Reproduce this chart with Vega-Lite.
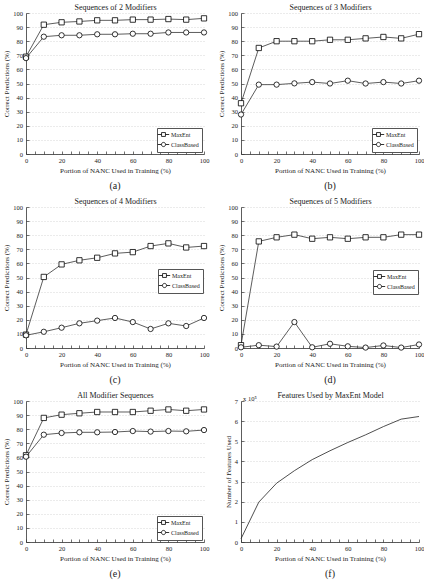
{
  "$schema": "https://vega.github.io/schema/vega-lite/v6.json",
  "padding": {"left": 2, "top": 3, "right": 0, "bottom": 2},
  "background": "white",
  "columns": 2,
  "spacing": {"row": 6, "column": 8},
  "config": {
    "font": "Liberation Serif",
    "view": {"stroke": null},
    "axis": {
      "labelFont": "Liberation Serif",
      "titleFont": "Liberation Serif",
      "labelFontSize": 6.5,
      "titleFontSize": 7,
      "titleFontWeight": "normal",
      "labelColor": "#222",
      "titleColor": "#222",
      "domainColor": "#333",
      "tickColor": "#333",
      "domainWidth": 0.8,
      "tickWidth": 0.7,
      "gridColor": "#bdbdbd",
      "gridDash": [1, 2],
      "gridWidth": 0.6,
      "labelFlush": false,
      "labelOverlap": false,
      "titlePadding": 3
    },
    "axisX": {"labelPadding": 6},
    "axisY": {"labelPadding": 6.5},
    "legend": {
      "labelFont": "Liberation Serif",
      "labelFontSize": 6,
      "labelColor": "#222",
      "strokeColor": "#555",
      "fillColor": "white",
      "padding": 3,
      "symbolSize": 36,
      "symbolStrokeWidth": 0.8,
      "rowPadding": 1,
      "labelOffset": 4
    },
    "title": {"font": "Liberation Serif", "fontWeight": "normal", "fontSize": 10, "color": "#222"}
  },
  "datasets": {
    "acc": [
      {"panel": "a", "portion": 0, "model": "MaxEnt", "value": 69},
      {"panel": "a", "portion": 10, "model": "MaxEnt", "value": 91.7},
      {"panel": "a", "portion": 20, "model": "MaxEnt", "value": 93.4},
      {"panel": "a", "portion": 30, "model": "MaxEnt", "value": 94},
      {"panel": "a", "portion": 40, "model": "MaxEnt", "value": 94.8},
      {"panel": "a", "portion": 50, "model": "MaxEnt", "value": 94.8},
      {"panel": "a", "portion": 60, "model": "MaxEnt", "value": 95.3},
      {"panel": "a", "portion": 70, "model": "MaxEnt", "value": 95.3},
      {"panel": "a", "portion": 80, "model": "MaxEnt", "value": 95.7},
      {"panel": "a", "portion": 90, "model": "MaxEnt", "value": 95.3},
      {"panel": "a", "portion": 100, "model": "MaxEnt", "value": 96.2},
      {"panel": "a", "portion": 0, "model": "ClassBased", "value": 68},
      {"panel": "a", "portion": 10, "model": "ClassBased", "value": 83.2},
      {"panel": "a", "portion": 20, "model": "ClassBased", "value": 84.2},
      {"panel": "a", "portion": 30, "model": "ClassBased", "value": 84.2},
      {"panel": "a", "portion": 40, "model": "ClassBased", "value": 84.9},
      {"panel": "a", "portion": 50, "model": "ClassBased", "value": 84.9},
      {"panel": "a", "portion": 60, "model": "ClassBased", "value": 85.3},
      {"panel": "a", "portion": 70, "model": "ClassBased", "value": 85.3},
      {"panel": "a", "portion": 80, "model": "ClassBased", "value": 86.2},
      {"panel": "a", "portion": 90, "model": "ClassBased", "value": 86.2},
      {"panel": "a", "portion": 100, "model": "ClassBased", "value": 86.2},

      {"panel": "b", "portion": 0, "model": "MaxEnt", "value": 36},
      {"panel": "b", "portion": 10, "model": "MaxEnt", "value": 75.2},
      {"panel": "b", "portion": 20, "model": "MaxEnt", "value": 80},
      {"panel": "b", "portion": 30, "model": "MaxEnt", "value": 80},
      {"panel": "b", "portion": 40, "model": "MaxEnt", "value": 80},
      {"panel": "b", "portion": 50, "model": "MaxEnt", "value": 81},
      {"panel": "b", "portion": 60, "model": "MaxEnt", "value": 81},
      {"panel": "b", "portion": 70, "model": "MaxEnt", "value": 82},
      {"panel": "b", "portion": 80, "model": "MaxEnt", "value": 83},
      {"panel": "b", "portion": 90, "model": "MaxEnt", "value": 82},
      {"panel": "b", "portion": 100, "model": "MaxEnt", "value": 85},
      {"panel": "b", "portion": 0, "model": "ClassBased", "value": 28},
      {"panel": "b", "portion": 10, "model": "ClassBased", "value": 49.2},
      {"panel": "b", "portion": 20, "model": "ClassBased", "value": 49.2},
      {"panel": "b", "portion": 30, "model": "ClassBased", "value": 50.1},
      {"panel": "b", "portion": 40, "model": "ClassBased", "value": 51},
      {"panel": "b", "portion": 50, "model": "ClassBased", "value": 50},
      {"panel": "b", "portion": 60, "model": "ClassBased", "value": 52},
      {"panel": "b", "portion": 70, "model": "ClassBased", "value": 50},
      {"panel": "b", "portion": 80, "model": "ClassBased", "value": 51},
      {"panel": "b", "portion": 90, "model": "ClassBased", "value": 50},
      {"panel": "b", "portion": 100, "model": "ClassBased", "value": 52},

      {"panel": "c", "portion": 0, "model": "MaxEnt", "value": 9.5},
      {"panel": "c", "portion": 10, "model": "MaxEnt", "value": 50.4},
      {"panel": "c", "portion": 20, "model": "MaxEnt", "value": 59.3},
      {"panel": "c", "portion": 30, "model": "MaxEnt", "value": 62.2},
      {"panel": "c", "portion": 40, "model": "MaxEnt", "value": 64},
      {"panel": "c", "portion": 50, "model": "MaxEnt", "value": 67.1},
      {"panel": "c", "portion": 60, "model": "MaxEnt", "value": 68},
      {"panel": "c", "portion": 70, "model": "MaxEnt", "value": 72.3},
      {"panel": "c", "portion": 80, "model": "MaxEnt", "value": 74.2},
      {"panel": "c", "portion": 90, "model": "MaxEnt", "value": 71.3},
      {"panel": "c", "portion": 100, "model": "MaxEnt", "value": 72.3},
      {"panel": "c", "portion": 0, "model": "ClassBased", "value": 9},
      {"panel": "c", "portion": 10, "model": "ClassBased", "value": 11.5},
      {"panel": "c", "portion": 20, "model": "ClassBased", "value": 14.4},
      {"panel": "c", "portion": 30, "model": "ClassBased", "value": 17.5},
      {"panel": "c", "portion": 40, "model": "ClassBased", "value": 19.4},
      {"panel": "c", "portion": 50, "model": "ClassBased", "value": 21.3},
      {"panel": "c", "portion": 60, "model": "ClassBased", "value": 18.4},
      {"panel": "c", "portion": 70, "model": "ClassBased", "value": 13.5},
      {"panel": "c", "portion": 80, "model": "ClassBased", "value": 17.5},
      {"panel": "c", "portion": 90, "model": "ClassBased", "value": 15.6},
      {"panel": "c", "portion": 100, "model": "ClassBased", "value": 21.3},

      {"panel": "d", "portion": 0, "model": "MaxEnt", "value": 2},
      {"panel": "d", "portion": 10, "model": "MaxEnt", "value": 75.6},
      {"panel": "d", "portion": 20, "model": "MaxEnt", "value": 78.5},
      {"panel": "d", "portion": 30, "model": "MaxEnt", "value": 80.4},
      {"panel": "d", "portion": 40, "model": "MaxEnt", "value": 77.5},
      {"panel": "d", "portion": 50, "model": "MaxEnt", "value": 78.5},
      {"panel": "d", "portion": 60, "model": "MaxEnt", "value": 77.5},
      {"panel": "d", "portion": 70, "model": "MaxEnt", "value": 78.5},
      {"panel": "d", "portion": 80, "model": "MaxEnt", "value": 78.5},
      {"panel": "d", "portion": 90, "model": "MaxEnt", "value": 80.4},
      {"panel": "d", "portion": 100, "model": "MaxEnt", "value": 80.4},
      {"panel": "d", "portion": 0, "model": "ClassBased", "value": 0.5},
      {"panel": "d", "portion": 10, "model": "ClassBased", "value": 2},
      {"panel": "d", "portion": 20, "model": "ClassBased", "value": 1},
      {"panel": "d", "portion": 30, "model": "ClassBased", "value": 18.4},
      {"panel": "d", "portion": 40, "model": "ClassBased", "value": 0.5},
      {"panel": "d", "portion": 50, "model": "ClassBased", "value": 3},
      {"panel": "d", "portion": 60, "model": "ClassBased", "value": 1.2},
      {"panel": "d", "portion": 70, "model": "ClassBased", "value": 0.3},
      {"panel": "d", "portion": 80, "model": "ClassBased", "value": 1.8},
      {"panel": "d", "portion": 90, "model": "ClassBased", "value": 0.3},
      {"panel": "d", "portion": 100, "model": "ClassBased", "value": 2.5},

      {"panel": "e", "portion": 0, "model": "MaxEnt", "value": 61.5},
      {"panel": "e", "portion": 10, "model": "MaxEnt", "value": 88},
      {"panel": "e", "portion": 20, "model": "MaxEnt", "value": 90.3},
      {"panel": "e", "portion": 30, "model": "MaxEnt", "value": 91.3},
      {"panel": "e", "portion": 40, "model": "MaxEnt", "value": 92.2},
      {"panel": "e", "portion": 50, "model": "MaxEnt", "value": 92.2},
      {"panel": "e", "portion": 60, "model": "MaxEnt", "value": 92.2},
      {"panel": "e", "portion": 70, "model": "MaxEnt", "value": 93.1},
      {"panel": "e", "portion": 80, "model": "MaxEnt", "value": 94},
      {"panel": "e", "portion": 90, "model": "MaxEnt", "value": 93.1},
      {"panel": "e", "portion": 100, "model": "MaxEnt", "value": 94},
      {"panel": "e", "portion": 0, "model": "ClassBased", "value": 60.5},
      {"panel": "e", "portion": 10, "model": "ClassBased", "value": 76.1},
      {"panel": "e", "portion": 20, "model": "ClassBased", "value": 77.3},
      {"panel": "e", "portion": 30, "model": "ClassBased", "value": 77.8},
      {"panel": "e", "portion": 40, "model": "ClassBased", "value": 77.8},
      {"panel": "e", "portion": 50, "model": "ClassBased", "value": 78},
      {"panel": "e", "portion": 60, "model": "ClassBased", "value": 78.7},
      {"panel": "e", "portion": 70, "model": "ClassBased", "value": 78.3},
      {"panel": "e", "portion": 80, "model": "ClassBased", "value": 78.7},
      {"panel": "e", "portion": 90, "model": "ClassBased", "value": 78.5},
      {"panel": "e", "portion": 100, "model": "ClassBased", "value": 79.4}
    ],
    "features": [
      {"portion": 0, "features": 16000},
      {"portion": 10, "features": 198000},
      {"portion": 20, "features": 292000},
      {"portion": 30, "features": 354000},
      {"portion": 40, "features": 409000},
      {"portion": 50, "features": 453000},
      {"portion": 60, "features": 494000},
      {"portion": 70, "features": 532000},
      {"portion": 80, "features": 573000},
      {"portion": 90, "features": 610000},
      {"portion": 100, "features": 623000}
    ],
    "scaleNote": [
      {"portion": 0, "features": 700000, "label": "x 10⁵"}
    ]
  },
  "concat": [
    {
      "width": 178, "height": 141,
      "title": {"text": "(a)", "orient": "bottom", "offset": 7},
      "data": {"name": "acc"},
      "transform": [{"filter": "datum.panel === 'a'"}],
      "resolve": {"scale": {"shape": "independent"}},
      "layer": [
        {
          "mark": {"type": "line", "color": "#333", "strokeWidth": 0.8},
          "encoding": {
            "x": {"field": "portion", "type": "quantitative", "scale": {"domain": [0, 100], "nice": false},
              "axis": {"orient": "bottom", "values": [0,5,10,15,20,25,30,35,40,45,50,55,60,65,70,75,80,85,90,95,100], "labelExpr": "datum.value % 20 === 0 ? datum.label : ''", "grid": false, "tickSize": -3, "title": "Portion of NANC Used in Training (%)"}},
            "y": {"field": "value", "type": "quantitative", "scale": {"domain": [0, 100], "nice": false},
              "axis": {"values": [0,10,20,30,40,50,60,70,80,90,100], "tickSize": -3, "title": "Correct Predictions (%)"}},
            "detail": {"field": "model"}
          }
        },
        {
          "mark": {"type": "point", "filled": true, "fill": "white", "stroke": "black", "strokeWidth": 0.8, "size": 28, "opacity": 1},
          "encoding": {
            "x": {"field": "portion", "type": "quantitative",
              "axis": {"orient": "top", "title": "Sequences of 2 Modifiers", "labels": false, "ticks": false, "domain": false, "grid": false, "titleFontSize": 8, "titlePadding": 2}},
            "y": {"field": "value", "type": "quantitative",
              "axis": {"values": [0,10,20,30,40,50,60,70,80,90,100], "tickSize": -3, "title": "Correct Predictions (%)"}},
            "shape": {"field": "model", "type": "nominal", "scale": {"domain": ["MaxEnt", "ClassBased"], "range": ["square", "circle"]}, "legend": null}
          }
        },
        {
          "transform": [{"filter": "false"}],
          "mark": {"type": "point", "filled": false, "color": "black", "strokeWidth": 0.8, "opacity": 1},
          "encoding": {
            "x": {"field": "portion", "type": "quantitative", "axis": null},
            "y": {"field": "value", "type": "quantitative",
              "axis": {"values": [0,10,20,30,40,50,60,70,80,90,100], "tickSize": -3, "title": "Correct Predictions (%)"}},
            "shape": {"field": "model", "type": "nominal",
              "scale": {"domain": ["MaxEnt", "ClassBased"], "range": ["M-1.9,0H-0.65M0.65,0H1.9M-0.65,-0.65H0.65V0.65H-0.65Z", "M-1.9,0H-0.7M0.7,0H1.9M0.7,0A0.7,0.7,0,1,1,-0.7,0A0.7,0.7,0,1,1,0.7,0Z"]},
              "legend": {"title": null, "orient": "bottom-right", "offset": 2}}
          }
        }
      ]
    },
    {
      "width": 178, "height": 141,
      "title": {"text": "(b)", "orient": "bottom", "offset": 7},
      "data": {"name": "acc"},
      "transform": [{"filter": "datum.panel === 'b'"}],
      "resolve": {"scale": {"shape": "independent"}},
      "layer": [
        {
          "mark": {"type": "line", "color": "#333", "strokeWidth": 0.8},
          "encoding": {
            "x": {"field": "portion", "type": "quantitative", "scale": {"domain": [0, 100], "nice": false},
              "axis": {"orient": "bottom", "values": [0,5,10,15,20,25,30,35,40,45,50,55,60,65,70,75,80,85,90,95,100], "labelExpr": "datum.value % 20 === 0 ? datum.label : ''", "grid": false, "tickSize": -3, "title": "Portion of NANC Used in Training (%)"}},
            "y": {"field": "value", "type": "quantitative", "scale": {"domain": [0, 100], "nice": false},
              "axis": {"values": [0,10,20,30,40,50,60,70,80,90,100], "tickSize": -3, "title": "Correct Predictions (%)"}},
            "detail": {"field": "model"}
          }
        },
        {
          "mark": {"type": "point", "filled": true, "fill": "white", "stroke": "black", "strokeWidth": 0.8, "size": 28, "opacity": 1},
          "encoding": {
            "x": {"field": "portion", "type": "quantitative",
              "axis": {"orient": "top", "title": "Sequences of 3 Modifiers", "labels": false, "ticks": false, "domain": false, "grid": false, "titleFontSize": 8, "titlePadding": 2}},
            "y": {"field": "value", "type": "quantitative",
              "axis": {"values": [0,10,20,30,40,50,60,70,80,90,100], "tickSize": -3, "title": "Correct Predictions (%)"}},
            "shape": {"field": "model", "type": "nominal", "scale": {"domain": ["MaxEnt", "ClassBased"], "range": ["square", "circle"]}, "legend": null}
          }
        },
        {
          "transform": [{"filter": "false"}],
          "mark": {"type": "point", "filled": false, "color": "black", "strokeWidth": 0.8, "opacity": 1},
          "encoding": {
            "x": {"field": "portion", "type": "quantitative", "axis": null},
            "y": {"field": "value", "type": "quantitative",
              "axis": {"values": [0,10,20,30,40,50,60,70,80,90,100], "tickSize": -3, "title": "Correct Predictions (%)"}},
            "shape": {"field": "model", "type": "nominal",
              "scale": {"domain": ["MaxEnt", "ClassBased"], "range": ["M-1.9,0H-0.65M0.65,0H1.9M-0.65,-0.65H0.65V0.65H-0.65Z", "M-1.9,0H-0.7M0.7,0H1.9M0.7,0A0.7,0.7,0,1,1,-0.7,0A0.7,0.7,0,1,1,0.7,0Z"]},
              "legend": {"title": null, "orient": "bottom-right", "offset": 2}}
          }
        }
      ]
    },
    {
      "width": 178, "height": 141,
      "title": {"text": "(c)", "orient": "bottom", "offset": 7},
      "data": {"name": "acc"},
      "transform": [{"filter": "datum.panel === 'c'"}],
      "resolve": {"scale": {"shape": "independent"}},
      "layer": [
        {
          "mark": {"type": "line", "color": "#333", "strokeWidth": 0.8},
          "encoding": {
            "x": {"field": "portion", "type": "quantitative", "scale": {"domain": [0, 100], "nice": false},
              "axis": {"orient": "bottom", "values": [0,5,10,15,20,25,30,35,40,45,50,55,60,65,70,75,80,85,90,95,100], "labelExpr": "datum.value % 20 === 0 ? datum.label : ''", "grid": false, "tickSize": -3, "title": "Portion of NANC Used in Training (%)"}},
            "y": {"field": "value", "type": "quantitative", "scale": {"domain": [0, 100], "nice": false},
              "axis": {"values": [0,10,20,30,40,50,60,70,80,90,100], "tickSize": -3, "title": "Correct Predictions (%)"}},
            "detail": {"field": "model"}
          }
        },
        {
          "mark": {"type": "point", "filled": true, "fill": "white", "stroke": "black", "strokeWidth": 0.8, "size": 28, "opacity": 1},
          "encoding": {
            "x": {"field": "portion", "type": "quantitative",
              "axis": {"orient": "top", "title": "Sequences of 4 Modifiers", "labels": false, "ticks": false, "domain": false, "grid": false, "titleFontSize": 8, "titlePadding": 2}},
            "y": {"field": "value", "type": "quantitative",
              "axis": {"values": [0,10,20,30,40,50,60,70,80,90,100], "tickSize": -3, "title": "Correct Predictions (%)"}},
            "shape": {"field": "model", "type": "nominal", "scale": {"domain": ["MaxEnt", "ClassBased"], "range": ["square", "circle"]}, "legend": null}
          }
        },
        {
          "transform": [{"filter": "false"}],
          "mark": {"type": "point", "filled": false, "color": "black", "strokeWidth": 0.8, "opacity": 1},
          "encoding": {
            "x": {"field": "portion", "type": "quantitative", "axis": null},
            "y": {"field": "value", "type": "quantitative",
              "axis": {"values": [0,10,20,30,40,50,60,70,80,90,100], "tickSize": -3, "title": "Correct Predictions (%)"}},
            "shape": {"field": "model", "type": "nominal",
              "scale": {"domain": ["MaxEnt", "ClassBased"], "range": ["M-1.9,0H-0.65M0.65,0H1.9M-0.65,-0.65H0.65V0.65H-0.65Z", "M-1.9,0H-0.7M0.7,0H1.9M0.7,0A0.7,0.7,0,1,1,-0.7,0A0.7,0.7,0,1,1,0.7,0Z"]},
              "legend": {"title": null, "orient": "none", "legendX": 132, "legendY": 62}}
          }
        }
      ]
    },
    {
      "width": 178, "height": 141,
      "title": {"text": "(d)", "orient": "bottom", "offset": 7},
      "data": {"name": "acc"},
      "transform": [{"filter": "datum.panel === 'd'"}],
      "resolve": {"scale": {"shape": "independent"}},
      "layer": [
        {
          "mark": {"type": "line", "color": "#333", "strokeWidth": 0.8},
          "encoding": {
            "x": {"field": "portion", "type": "quantitative", "scale": {"domain": [0, 100], "nice": false},
              "axis": {"orient": "bottom", "values": [0,5,10,15,20,25,30,35,40,45,50,55,60,65,70,75,80,85,90,95,100], "labelExpr": "datum.value % 20 === 0 ? datum.label : ''", "grid": false, "tickSize": -3, "title": "Portion of NANC Used in Training (%)"}},
            "y": {"field": "value", "type": "quantitative", "scale": {"domain": [0, 100], "nice": false},
              "axis": {"values": [0,10,20,30,40,50,60,70,80,90,100], "tickSize": -3, "title": "Correct Predictions (%)"}},
            "detail": {"field": "model"}
          }
        },
        {
          "mark": {"type": "point", "filled": true, "fill": "white", "stroke": "black", "strokeWidth": 0.8, "size": 28, "opacity": 1},
          "encoding": {
            "x": {"field": "portion", "type": "quantitative",
              "axis": {"orient": "top", "title": "Sequences of 5 Modifiers", "labels": false, "ticks": false, "domain": false, "grid": false, "titleFontSize": 8, "titlePadding": 2}},
            "y": {"field": "value", "type": "quantitative",
              "axis": {"values": [0,10,20,30,40,50,60,70,80,90,100], "tickSize": -3, "title": "Correct Predictions (%)"}},
            "shape": {"field": "model", "type": "nominal", "scale": {"domain": ["MaxEnt", "ClassBased"], "range": ["square", "circle"]}, "legend": null}
          }
        },
        {
          "transform": [{"filter": "false"}],
          "mark": {"type": "point", "filled": false, "color": "black", "strokeWidth": 0.8, "opacity": 1},
          "encoding": {
            "x": {"field": "portion", "type": "quantitative", "axis": null},
            "y": {"field": "value", "type": "quantitative",
              "axis": {"values": [0,10,20,30,40,50,60,70,80,90,100], "tickSize": -3, "title": "Correct Predictions (%)"}},
            "shape": {"field": "model", "type": "nominal",
              "scale": {"domain": ["MaxEnt", "ClassBased"], "range": ["M-1.9,0H-0.65M0.65,0H1.9M-0.65,-0.65H0.65V0.65H-0.65Z", "M-1.9,0H-0.7M0.7,0H1.9M0.7,0A0.7,0.7,0,1,1,-0.7,0A0.7,0.7,0,1,1,0.7,0Z"]},
              "legend": {"title": null, "orient": "none", "legendX": 132, "legendY": 63}}
          }
        }
      ]
    },
    {
      "width": 178, "height": 141,
      "title": {"text": "(e)", "orient": "bottom", "offset": 7},
      "data": {"name": "acc"},
      "transform": [{"filter": "datum.panel === 'e'"}],
      "resolve": {"scale": {"shape": "independent"}},
      "layer": [
        {
          "mark": {"type": "line", "color": "#333", "strokeWidth": 0.8},
          "encoding": {
            "x": {"field": "portion", "type": "quantitative", "scale": {"domain": [0, 100], "nice": false},
              "axis": {"orient": "bottom", "values": [0,5,10,15,20,25,30,35,40,45,50,55,60,65,70,75,80,85,90,95,100], "labelExpr": "datum.value % 20 === 0 ? datum.label : ''", "grid": false, "tickSize": -3, "title": "Portion of NANC Used in Training (%)"}},
            "y": {"field": "value", "type": "quantitative", "scale": {"domain": [0, 100], "nice": false},
              "axis": {"values": [0,10,20,30,40,50,60,70,80,90,100], "tickSize": -3, "title": "Correct Predictions (%)"}},
            "detail": {"field": "model"}
          }
        },
        {
          "mark": {"type": "point", "filled": true, "fill": "white", "stroke": "black", "strokeWidth": 0.8, "size": 28, "opacity": 1},
          "encoding": {
            "x": {"field": "portion", "type": "quantitative",
              "axis": {"orient": "top", "title": "All Modifier Sequences", "labels": false, "ticks": false, "domain": false, "grid": false, "titleFontSize": 8, "titlePadding": 2}},
            "y": {"field": "value", "type": "quantitative",
              "axis": {"values": [0,10,20,30,40,50,60,70,80,90,100], "tickSize": -3, "title": "Correct Predictions (%)"}},
            "shape": {"field": "model", "type": "nominal", "scale": {"domain": ["MaxEnt", "ClassBased"], "range": ["square", "circle"]}, "legend": null}
          }
        },
        {
          "transform": [{"filter": "false"}],
          "mark": {"type": "point", "filled": false, "color": "black", "strokeWidth": 0.8, "opacity": 1},
          "encoding": {
            "x": {"field": "portion", "type": "quantitative", "axis": null},
            "y": {"field": "value", "type": "quantitative",
              "axis": {"values": [0,10,20,30,40,50,60,70,80,90,100], "tickSize": -3, "title": "Correct Predictions (%)"}},
            "shape": {"field": "model", "type": "nominal",
              "scale": {"domain": ["MaxEnt", "ClassBased"], "range": ["M-1.9,0H-0.65M0.65,0H1.9M-0.65,-0.65H0.65V0.65H-0.65Z", "M-1.9,0H-0.7M0.7,0H1.9M0.7,0A0.7,0.7,0,1,1,-0.7,0A0.7,0.7,0,1,1,0.7,0Z"]},
              "legend": {"title": null, "orient": "bottom-right", "offset": 2}}
          }
        }
      ]
    },
    {
      "width": 178, "height": 141,
      "title": {"text": "(f)", "orient": "bottom", "offset": 7},
      "layer": [
        {
          "data": {"name": "features"},
          "mark": {"type": "line", "color": "#222", "strokeWidth": 0.8},
          "encoding": {
            "x": {"field": "portion", "type": "quantitative", "scale": {"domain": [0, 100], "nice": false},
              "axis": {"orient": "bottom", "values": [0,5,10,15,20,25,30,35,40,45,50,55,60,65,70,75,80,85,90,95,100], "labelExpr": "datum.value % 20 === 0 ? datum.label : ''", "grid": false, "tickSize": -3, "title": "Portion of NANC Used in Training (%)"}},
            "y": {"field": "features", "type": "quantitative", "scale": {"domain": [0, 700000], "nice": false},
              "axis": {"values": [0,100000,200000,300000,400000,500000,600000,700000], "labelExpr": "datum.value / 100000", "tickSize": -3, "title": "Number of Features Used"}}
          }
        },
        {
          "data": {"name": "scaleNote"},
          "mark": {"type": "text", "align": "left", "baseline": "bottom", "dx": 2, "dy": 1, "fontSize": 6.5, "color": "#222"},
          "encoding": {
            "x": {"field": "portion", "type": "quantitative",
              "axis": {"orient": "top", "title": "Features Used by MaxEnt Model", "labels": false, "ticks": false, "domain": false, "grid": false, "titleFontSize": 8, "titlePadding": 2}},
            "y": {"field": "features", "type": "quantitative",
              "axis": {"values": [0,100000,200000,300000,400000,500000,600000,700000], "labelExpr": "datum.value / 100000", "tickSize": -3, "title": "Number of Features Used"}},
            "text": {"field": "label"}
          }
        }
      ]
    }
  ]
}
